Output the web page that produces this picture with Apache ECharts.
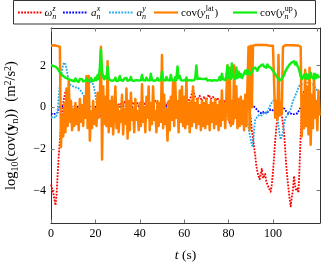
<!DOCTYPE html>
<html><head><meta charset="utf-8">
<script src="https://cdn.jsdelivr.net/npm/echarts@6/dist/echarts.min.js"></script>
<style>html,body{margin:0;padding:0;background:#fff}#c{width:331px;height:263px}</style>
</head><body><div id="c"></div>
<script>
// ---- data ----
const xTicks = [0, 20, 40, 60, 80, 100, 120];
const yTicks = [-4, -2, 0, 2];

// omega_n^z  [t (s), log10 cov]
const omegaZ = [[0,-3.7],[0.5,-3.9],[1,-4.1],[1.5,-4.4],[2,-4.7],[2.5,-4.2],[3,-3.2],[3.5,-2.3],[4,-1.6],[4.5,-0.9],[5,-0.3],[5.5,0.2],[6,0.5],[6.5,0.75],[7,0.85],[7.5,0.7],[8,0.3],[8.5,-0.2],[9,-0.6],[9.5,-0.3],[10,-0.5],[11,-0.2],[12,-0.55],[13,-0.3],[14,-0.6],[15,-0.25],[16,-0.5],[17,-0.35],[18,-0.65],[19,-0.3],[20,-0.5],[21,-0.2],[22,-0.45],[23,-0.1],
[24,0.0],[25,0.15],[26,0.05],[27,0.2],[28,0.1],[29,0.25],[30,0.05],[31,0.2],[32,0.1],[33,0.25],[34,0.0],[35,0.2],[36,0.1],[37,0.25],[38,0.05],[39,0.2],[40,0.1],[41,0.3],[42,0.15],[43,0.25],[44,0.05],[45,0.2],[46,0.1],[47,0.3],[48,0.15],[49,0.2],[50,0.05],[51,0.25],[52,0.1],[53,0.3],[54,0.15],[55,0.2],[56,0.1],[57,0.3],[58,0.2],[59,0.35],[60,0.25],[61,0.4],[62,0.3],[63,0.5],[64,0.85],[65,0.45],[66,0.35],[67,0.55],[68,0.3],[69,0.5],[70,0.35],[71,0.6],[72,0.4],[73,0.5],[74,0.3],[75,0.45],[76,0.25],[77,0.2],[78,0.3],[79,0.15],[80,-0.3],[80.5,-0.8],[81,-0.5],[82,-0.75],[83,-0.4],[84,-0.2],[85,-0.35],[86,-0.5],[87,-0.3],
[88,-0.2],[89,0.1],[89.5,-0.2],[90,-0.5],[90.5,-1.1],[91,-1.5],[91.5,-1.9],[92,-2.3],[92.5,-2.8],[93,-3.1],[93.5,-3.3],[94,-3.45],[94.5,-3.2],[95,-2.95],[95.5,-3.4],[96,-3.3],[96.5,-3.2],[97,-3.55],[97.5,-3.7],[98,-3.75],[98.5,-3.95],[99,-4.05],[99.5,-3.7],[100,-3.1],[100.5,-2.4],[101,-1.6],[101.5,-1.0],[102,-0.5],[102.5,-0.1],[103,0.25],[103.5,0.0],[104,-0.4],[104.5,-0.8],[105,-1.2],[105.5,-2.0],[106,-2.8],[106.5,-3.4],[107,-3.9],[107.5,-4.4],[108,-4.75],[108.5,-4.3],[109,-3.95],[109.5,-3.3],[110,-3.8],[110.5,-4.0],[111,-3.9],[111.5,-4.1],[112,-2.8],[112.5,-1.3],[113,-0.1],[113.5,0.5],[114,0.8],[114.5,0.4],[115,0.2],[116,0.1],[117,0.25],[118,0.1],[119,0.3],[120,0.2],[121,0.35]];

// a_n^x
const aX = [[0,-0.3],[1,-0.35],[2,-0.3],[3,-0.25],[3.5,0.0],[4,0.05],[6,0.05],[8,0.0],[10,0.05],[12,0.02],[14,0.06],[16,0.0],[18,0.05],[20,0.02],[22,0.05],[24,0.0],[27,0.05],[30,0.0],[33,0.05],[36,0.0],[39,0.06],[42,0.0],[45,0.05],[48,0.0],[51,0.05],[54,0.0],[57,0.06],[60,0.05],[63,0.1],[66,0.1],[68,0.12],[70,0.05],[73,0.1],[76,0.05],[79,0.0],[82,0.05],[85,0.0],
[88,0.0],[89,0.05],[90,0.1],[91,0.05],[92,0.0],[93,-0.15],[94,-0.25],[95,-0.3],[96,-0.2],[97,-0.3],[98,-0.2],[99,-0.1],[100,-0.15],[101,-0.1],[102,-0.05],[103,0.0],[104,-0.05],[105,-0.05],[106,-0.2],[107,-0.3],[108,-0.3],[109,-0.35],[110,-0.3],[111,-0.3],[112,-0.1],[113,0.05],[114,0.0],[116,0.05],[118,0.0],[120,0.05],[121,0.0]];

// a_n^y
const aY = [[0,-0.5],[1,-0.45],[2,-0.5],[2.5,-0.4],[3,-0.2],[3.5,0.5],[4,1.1],[4.5,1.5],[5,1.8],[5.5,2.05],[6,2.15],[6.5,2.05],[7,1.85],[7.5,1.55],[8,1.25],[8.5,1.1],[9,1.05],[10,1.0],[11,0.95],[12,0.95],[13,0.85],[14,0.7],[15,0.5],[15.5,0.35],[16,0.45],[16.5,0.9],[17,1.3],[17.5,1.2],[18,1.25],[18.5,1.2],[19,1.1],[19.5,0.9],[20,0.6],[20.5,0.2],[21,-0.1],[21.5,-0.25],[22,-0.15],[23,-0.3],[24,-0.2],
[25,-0.1],[27,-0.25],[29,-0.05],[31,-0.2],[33,-0.1],[35,-0.3],[37,-0.1],[39,-0.2],[41,-0.05],[43,-0.25],[45,-0.1],[47,-0.2],[49,-0.05],[51,-0.25],[53,-0.1],[55,-0.2],[57,-0.05],[59,-0.2],[61,-0.1],[63,-0.25],[65,-0.1],[67,-0.2],[68,0.0],[69,-0.3],[70,0.1],[71,-0.4],[72,0.15],[73,-0.5],[74,-0.1],[75,-0.3],[77,-0.15],[79,-0.3],[80,-0.6],[81,-0.4],[83,-0.2],[85,-0.3],[87,-0.25],
[88,-0.4],[88.5,-0.7],[89,-1.0],[89.5,-1.3],[90,-1.55],[90.5,-1.8],[91,-1.9],[91.5,-1.1],[92,-0.6],[93,-0.45],[94,-0.35],[95,-0.4],[96,-0.25],[97,-0.3],[98,-0.1],[99,0.15],[100,0.3],[101,0.35],[101.5,0.1],[102,-0.4],[102.5,-0.9],[103,-1.3],[103.5,-1.55],[104,-1.5],[104.5,-1.2],[105,-0.8],[105.5,-0.55],[106,-0.45],[107,-0.3],[108,-0.1],[108.5,0.1],[109,0.3],[109.5,0.4],[110,0.55],[111,0.8],[111.5,0.95],[112,1.05],[113,1.1],[114,1.1],[115,1.15],[116,1.2],[117,1.15],[118,1.1],[119,0.95],[120,0.8],[121,0.7]];

// cov(y_n^lat), one value every 0.5 s from t = 0
const latStep = 0.5;
const covLat = [
2.95,2.97,2.97,2.96,2.96,2.95,2.93,2.92,2.9,-1.9,
-0.4,-1.4,0.2,-1.2,0.9,-0.9,1.3,-0.7,0.3,-1.1,
-0.1,-0.9,0.2,-0.8,-0.1,-1.1,0.4,-0.7,0.1,-0.9,
0.5,-0.5,1.5,-1.0,1.5,-1.6,-0.2,-1.0,0.3,-0.8,
-0.1,-0.9,0.7,-0.5,0.4,2.9,-2.5,1.0,-0.8,0.5,
-0.9,2.2,-1.2,0.3,-0.9,0.5,-1.3,-0.2,1.0,-1.0,
0.1,-1.2,-0.2,-0.7,0.6,-1.3,-0.1,-0.8,0.9,-1.5,
0.3,-1.1,0.7,-0.6,-0.1,-1.2,0.4,-0.6,-0.2,-1.1,
0.2,-0.9,1.1,-0.7,0.0,-1.2,0.5,-0.5,1.0,-1.1,
0.2,-0.8,1.0,-0.6,-0.2,-1.2,0.3,-0.9,0.2,-0.7,
2.5,-1.0,0.6,-0.8,-0.1,-1.6,0.3,-1.1,0.5,-0.6,
1.25,-0.9,1.2,-0.5,0.3,-1.2,0.8,-0.7,1.0,-0.9,
0.5,-1.0,1.3,-0.8,0.2,-1.2,0.3,-0.9,1.0,-0.7,
0.2,-1.0,0.4,-0.8,0.1,-1.1,0.3,-0.9,0.2,-1.0,
0.4,-0.8,0.1,-1.1,0.3,-0.7,0.2,-1.0,0.4,-0.8,
0.1,-1.1,0.3,-0.9,0.8,-0.6,0.2,-1.0,0.5,2.0,
-0.6,1.9,-0.9,0.3,-0.8,2.0,-0.5,1.0,-1.0,0.4,
-0.9,0.5,-0.8,0.3,-1.1,0.6,-0.9,1.0,2.9,-1.1,
2.95,0.0,2.95,2.97,2.98,2.97,2.98,2.99,2.98,2.97,
2.98,2.99,2.98,2.97,2.98,2.97,2.96,2.97,2.95,2.96,
2.95,2.9,-0.5,0.3,-0.6,2.5,-0.4,0.2,-0.3,2.9,
2.96,2.97,2.98,2.97,2.98,2.97,2.98,2.97,2.96,2.97,
2.97,2.96,2.97,2.96,2.95,2.9,-1.4,0.6,-1.0,1.8,
-0.9,1.0,-1.3,1.9,-1.8,0.6,-1.0,1.6,-0.5,0.3,
-1.1,0.8,-0.4];

// cov(y_n^up), one value every 0.5 s from t = 0
const upStep = 0.5;
const covUp = [
2.02,2.05,1.98,2.03,1.95,1.92,1.85,1.75,1.7,1.62,
1.55,1.5,1.58,1.42,1.5,1.38,1.45,1.32,1.4,1.28,
1.35,1.25,1.38,1.28,1.33,1.22,1.36,1.27,1.34,1.24,
1.33,1.27,1.38,1.25,1.32,1.3,1.4,1.26,1.35,1.28,
1.42,1.3,1.55,1.35,1.9,2.75,1.7,1.45,1.35,1.5,
1.4,1.95,1.4,1.3,1.38,1.27,1.35,1.3,1.42,1.26,
1.35,1.28,1.5,1.3,1.34,1.27,1.38,1.29,1.4,1.27,
1.36,1.3,1.45,1.28,1.33,1.27,1.35,1.3,1.38,1.28,
1.36,1.3,1.55,1.3,1.35,1.28,1.42,1.3,1.38,1.28,
1.6,1.3,1.36,1.27,1.35,1.3,1.4,1.28,1.36,1.3,
1.7,1.32,1.4,1.28,1.45,1.3,1.36,1.28,1.55,1.3,
1.38,1.28,1.45,1.3,1.95,1.4,1.5,1.3,1.38,1.28,
1.36,1.3,1.42,1.28,1.36,1.3,1.38,1.28,1.35,1.3,
1.4,2.0,1.35,1.28,1.38,1.3,1.36,1.28,1.35,1.3,
1.38,1.28,1.34,1.3,1.36,1.27,1.35,1.3,1.38,1.28,
1.35,1.3,1.45,1.3,1.6,1.35,1.38,1.3,1.5,2.0,
1.4,1.6,1.35,2.1,1.45,1.5,1.35,1.9,1.4,1.7,
1.45,1.6,1.4,1.5,1.45,1.75,1.6,1.8,1.75,1.55,
1.5,1.7,1.85,1.8,1.9,1.85,1.75,1.9,1.85,2.0,
1.95,2.05,1.95,2.0,1.9,2.05,1.95,2.0,1.9,1.85,
1.75,1.7,1.6,1.5,1.45,1.35,1.3,1.3,1.35,1.45,
1.55,1.7,1.8,1.9,1.95,2.05,2.0,2.15,2.1,2.2,
2.05,2.15,2.0,1.9,1.7,1.5,1.35,1.3,1.55,1.4,
1.6,1.35,1.55,1.4,1.65,1.45,1.5,1.35,1.6,1.4,
1.55,1.45,1.5];

// ---- chart ----
const FONT = '"Liberation Serif", "DejaVu Serif", serif';
const C = {red:'#ff0000', blue:'#0000ff', cyan:'#1fa8ec', orange:'#ff8000', green:'#12ee12'};
const DOT = [1.8, 1.3];
const toPairs = (arr, step) => arr.map((v, i) => [i * step, v]);

const chart = echarts.init(document.getElementById('c'), null, {renderer:'canvas'});

const xBase = {type:'value', min:0, max:121.2, interval:20,
  axisLine:{show:true, onZero:false, lineStyle:{color:'#333', width:1}},
  splitLine:{show:false}};
const yBase = {type:'value', min:-5.55, max:3.8,
  axisLine:{show:true, onZero:false, lineStyle:{color:'#333', width:1}},
  splitLine:{show:false}};

// ---- legend (math labels with stacked sub/superscripts) ----
const mctx = document.createElement('canvas').getContext('2d');
function tw(s, size, italic) {
  mctx.font = (italic ? 'italic ' : '') + size + 'px ' + FONT;
  return mctx.measureText(s).width;
}
const MAIN = 11, SCR = 8;
function txt(x, y, s, size, italic) {
  return {type:'text', x:x, y:y, silent:true, z:101,
    style:{text:s, fontFamily:FONT, fontSize:size, fontStyle: italic ? 'italic' : 'normal',
      fill:'#000', align:'left', verticalAlign:'middle'}};
}
// pieces: ['m', text, italic] main ; ['s', sup, supItalic, sub, subItalic] stacked scripts
function mathLabel(x0, pieces) {
  const out = []; let x = x0;
  pieces.forEach(p => {
    if (p[0] === 'm') { out.push(txt(x, 13, p[1], MAIN, p[2])); x += tw(p[1], MAIN, p[2]); }
    else {
      out.push(txt(x + 0.3, 8.5, p[1], SCR, p[2]));
      out.push(txt(x, 16.5, p[3], SCR, p[4]));
      x += Math.max(tw(p[1], SCR, p[2]) + 0.3, tw(p[3], SCR, p[4])) + 0.8;
    }
  });
  return out;
}
function sample(x1, x2, color, dashed) {
  return {type:'line', silent:true, z:101,
    shape:{x1:x1, y1:12.5, x2:x2, y2:12.5},
    style:{stroke:color, lineWidth: dashed ? 1.8 : 2.2, lineDash: dashed ? DOT : null}};
}
const legendEls = [
  {type:'rect', silent:true, z:100, shape:{x:13.5, y:0.5, width:302, height:23.5},
   style:{fill:'#fff', stroke:'#333', lineWidth:1}},
  sample(18, 42, C.red, true),
  ...mathLabel(44.5, [['m','ω',true],['s','z',true,'n',true]]),
  sample(63, 87, C.blue, true),
  ...mathLabel(91, [['m','a',true],['s','x',true,'n',true]]),
  sample(109, 133, C.cyan, true),
  ...mathLabel(136.5, [['m','a',true],['s','y',true,'n',true]]),
  sample(154, 178, C.orange, false),
  ...mathLabel(181, [['m','cov(',false],['m','y',true],['s','lat',false,'n',true],['m',')',false]]),
  sample(233, 257, C.green, false),
  ...mathLabel(260, [['m','cov(',false],['m','y',true],['s','up',false,'n',true],['m',')',false]])
];

const lineSeries = (name, data, color, dotted) => ({
  name:name, type:'line', data:data, xAxisIndex:0, yAxisIndex:0,
  showSymbol:false, symbol:'none', silent:true, animation:false,
  lineStyle:{color:color, width: dotted ? 1.8 : 2.5, type: dotted ? DOT : 'solid', join:'round'}
});

const tickStyle = {show:true, inside:true, length:3.5, lineStyle:{color:'#777'}};

chart.setOption({
  animation:false,
  backgroundColor:'#fff',
  grid:{left:51, right:11, top:28, bottom:40, containLabel:false, outerBoundsMode:'none'},
  xAxis:[
    Object.assign({}, xBase, {position:'bottom',
      name:'{i|t} (s)', nameLocation:'middle', nameGap:25,
      nameTextStyle:{fontFamily:FONT, fontSize:13.5, color:'#000',
        rich:{i:{fontFamily:FONT, fontSize:13.5, fontStyle:'italic', color:'#000'}}},
      axisTick:Object.assign({customValues:xTicks}, tickStyle),
      axisLabel:{show:true, customValues:xTicks, fontFamily:FONT, fontSize:12, color:'#000', margin:5,
        showMaxLabel:false}}),
    Object.assign({}, xBase, {position:'top',
      axisTick:Object.assign({customValues:xTicks}, tickStyle),
      axisLabel:{show:false}})
  ],
  yAxis:[
    Object.assign({}, yBase, {position:'left',
      name:'log{sub|10}(cov({b|y}{sub|n}))\u2002(m{sup|2}/s{sup|2})',
      nameLocation:'middle', nameRotate:90, nameGap:31,
      nameTextStyle:{fontFamily:FONT, fontSize:14.5, color:'#000', lineHeight:17,
        rich:{
          sub:{fontFamily:FONT, fontSize:10, lineHeight:10, verticalAlign:'bottom', color:'#000'},
          sup:{fontFamily:FONT, fontSize:10, lineHeight:10, verticalAlign:'top', color:'#000'},
          b:{fontFamily:FONT, fontSize:14.5, fontWeight:'bold', color:'#000', lineHeight:17}
        }},
      axisTick:Object.assign({customValues:yTicks}, tickStyle),
      axisLabel:{show:true, customValues:yTicks, fontFamily:FONT, fontSize:12, color:'#000', margin:5,
        formatter:(v) => String(v).replace('-', '\u2212')}}),
    Object.assign({}, yBase, {position:'right',
      axisTick:Object.assign({customValues:yTicks}, tickStyle),
      axisLabel:{show:false}})
  ],
  series:[
    lineSeries('omega_z', omegaZ, C.red, true),
    lineSeries('a_x', aX, C.blue, true),
    lineSeries('a_y', aY, C.cyan, true),
    lineSeries('cov_lat', toPairs(covLat, latStep), C.orange, false),
    lineSeries('cov_up', toPairs(covUp, upStep), C.green, false)
  ],
  graphic:{elements:legendEls}
});
</script>
</body></html>
